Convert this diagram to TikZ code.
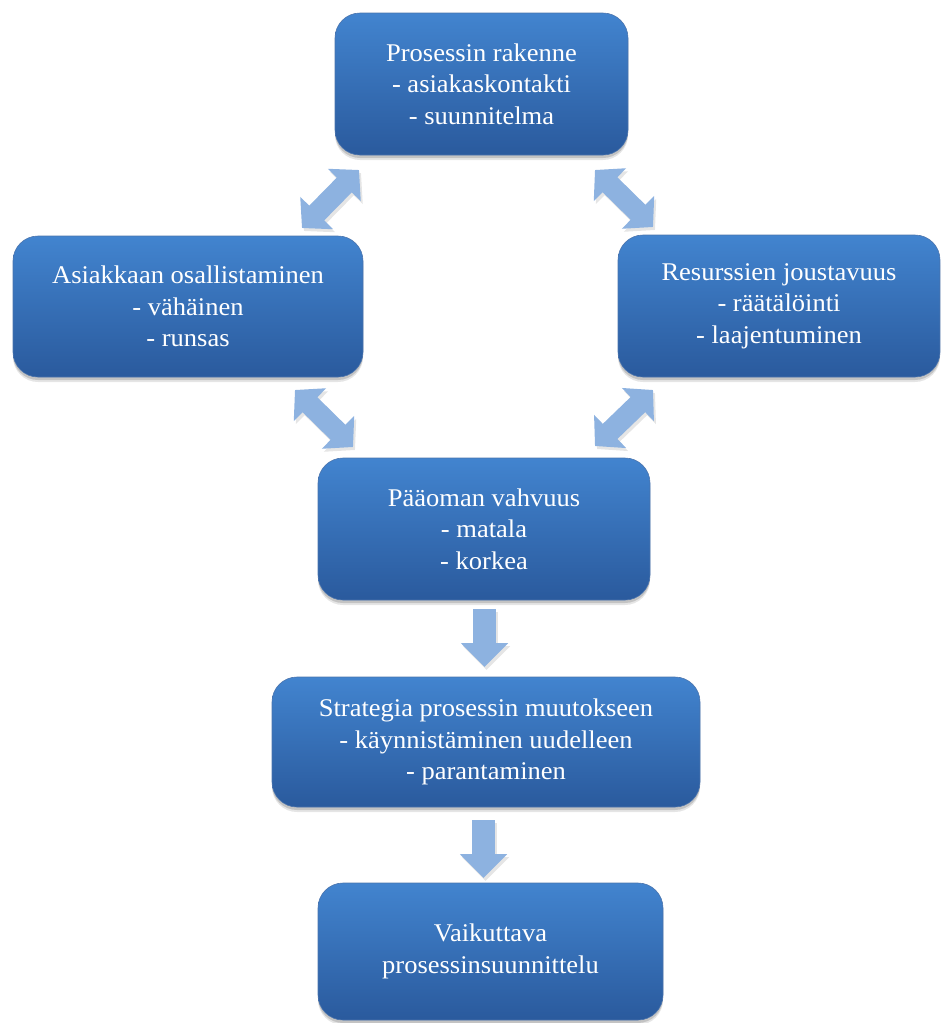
\documentclass[tikz,border=0pt]{standalone}
\usepackage{fontspec}
\newfontfamily\boxfont[FakeStretch=1.04]{Liberation Serif}
\usetikzlibrary{arrows.meta,shadows}
\definecolor{boxtop}{RGB}{66,132,207}
\definecolor{boxbot}{RGB}{42,90,157}
\definecolor{arr}{RGB}{141,178,224}
\tikzset{
 box/.style={rounded corners=25pt, top color=boxtop, bottom color=boxbot,
   draw=boxbot!85!white, line width=0.6pt, text=white, align=center, inner sep=0pt,
   font=\boxfont\fontsize{25.5}{31.5}\selectfont,
   general shadow={shadow xshift=0pt, shadow yshift=-5pt, opacity=0.10, fill=black},
   general shadow={shadow xshift=0pt, shadow yshift=-3pt, opacity=0.15, fill=black}},
 blockarrow/.style={draw=arr, line width=21pt,
   {Triangle[width=45pt,length=21pt]}-{Triangle[width=45pt,length=21pt]}},
 downarrow/.style={draw=arr, line width=23pt, -{Triangle[width=46pt,length=24pt]}},
 arrshadow/.style={draw=black!10, transform canvas={shift={(2pt,-3pt)}}},
}
\begin{document}
\begin{tikzpicture}[x=1pt,y=-1pt]
\useasboundingbox (0,0) rectangle (942,1023);
\node[box, minimum width=293pt, minimum height=142pt] (top) at (481.5,84)
  {Prosessin rakenne\\- asiakaskontakti\\- suunnitelma};
\node[box, minimum width=350pt, minimum height=141pt] (left) at (188,306.5)
  {Asiakkaan osallistaminen\\- vähäinen\\- runsas};
\node[box, minimum width=322pt, minimum height=142pt] (right) at (779,306)
  {Resurssien joustavuus\\- räätälöinti\\- laajentuminen};
\node[box, minimum width=332pt, minimum height=142pt] (mid) at (484,529)
  {Pääoman vahvuus\\- matala\\- korkea};
\node[box, minimum width=428pt, minimum height=130pt] (strat) at (486,742)
  {Strategia prosessin muutokseen\\- käynnistäminen uudelleen\\- parantaminen};
\node[box, minimum width=345pt, minimum height=137pt] (final) at (490.5,951.5)
  {Vaikuttava\\prosessinsuunnittelu};

\coordinate (a1s) at (359,170); \coordinate (a1e) at (302,228);
\coordinate (a2s) at (595,170); \coordinate (a2e) at (653,227);
\coordinate (a3s) at (295,390); \coordinate (a3e) at (353,447);
\coordinate (a4s) at (653,390); \coordinate (a4e) at (595,446);
\coordinate (d1s) at (484.5,609); \coordinate (d1e) at (484.5,667);
\coordinate (d2s) at (483.5,820); \coordinate (d2e) at (483.5,878);

\foreach \s/\e in {a1s/a1e,a2s/a2e,a3s/a3e,a4s/a4e}{
  \draw[blockarrow, arrshadow] (\s) -- (\e);
  \draw[blockarrow] (\s) -- (\e);
}
\foreach \s/\e in {d1s/d1e,d2s/d2e}{
  \draw[downarrow, arrshadow] (\s) -- (\e);
  \draw[downarrow] (\s) -- (\e);
}
\end{tikzpicture}
\end{document}
